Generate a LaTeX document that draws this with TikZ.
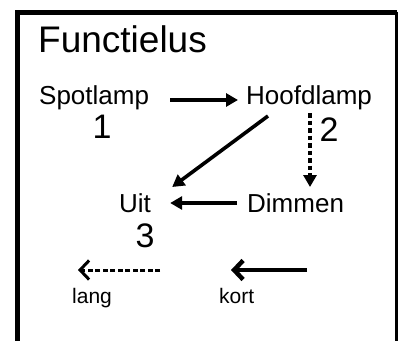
\documentclass[tikz,border=0pt]{standalone}
\usepackage{fontspec}
\setmainfont{Liberation Sans}
\usetikzlibrary{arrows.meta,positioning}

\begin{document}
\begin{tikzpicture}[x=1pt, y=-1pt,
  modus/.style={anchor=base west, inner sep=0pt, font=\fontsize{26}{30}\selectfont},
  cijfer/.style={anchor=base, inner sep=0pt, font=\fontsize{34}{36}\selectfont},
  legtekst/.style={anchor=base west, inner sep=0pt, font=\fontsize{21}{24}\selectfont},
  pijl/.style={line width=3.6pt, -{Triangle[length=12pt,width=13pt]}},
  stippel/.style={pijl, dash pattern=on 4.5pt off 3pt},
  legpijl/.style={-{Straight Barb[length=9pt,width=19pt]}}]
\useasboundingbox (0,0) rectangle (398,340);
% ---- frame, open at the bottom ----
\draw[line width=5pt] (17,345) -- (17,12) -- (397,12);
\draw[line width=3pt] (396,12) -- (396,345);
\node[anchor=base west, inner sep=0pt, font=\fontsize{37}{40}\selectfont] (titel) at (38,52) {Functielus};
% ---- the three modes ----
\node[modus] (spot) at (39,104) {Spotlamp};
\node[modus] (hoofd) at (246,104) {Hoofdlamp};
\node[modus] (uit) at (119,212) {Uit};
\node[modus] (dim) at (247,212) {Dimmen};
\node[cijfer] (een) at (102,138) {1};
\node[cijfer] (twee) at (329,141) {2};
\node[cijfer] (drie) at (145,247) {3};
% ---- transitions ----
\draw[pijl] ([shift={(21,-4)}]spot.base east) -- ([shift={(-8,-4)}]hoofd.base west);
\draw[pijl] ([shift={(22,12)}]hoofd.base west) -- ([shift={(21,-25)}]uit.base east);
\draw[stippel] ([shift={(64,9)}]hoofd.base west) -- ([shift={(63,-25)}]dim.base west);
\draw[pijl] ([shift={(-10,-9)}]dim.base west) -- ([shift={(19,-9)}]uit.base east);
% ---- legend: long and short press ----
\coordinate (langvan) at (160,270);
\coordinate (langnaar) at (78,270);
\coordinate (kortvan) at (307,270);
\coordinate (kortnaar) at (231,270);
\draw[legpijl, line width=3pt, dash pattern=on 5pt off 2.5pt] (langvan) -- (langnaar);
\draw[legpijl, line width=4.5pt] (kortvan) -- (kortnaar);
\node[legtekst] (lang) at (72,303) {lang};
\node[legtekst] (kort) at (219,303) {kort};
\end{tikzpicture}
\end{document}
